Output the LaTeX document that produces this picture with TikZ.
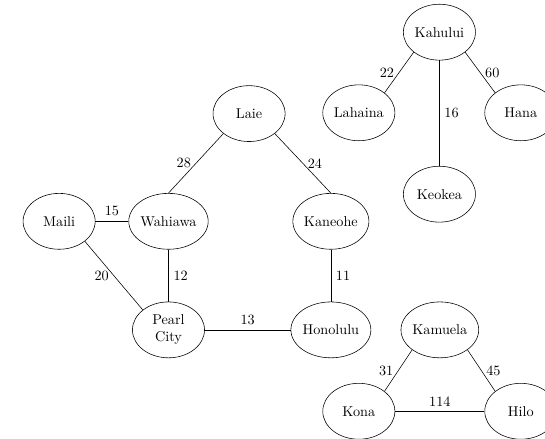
\documentclass[tikz,border=0pt]{standalone}
\usepackage{amsmath,amssymb}
\usepackage{tikz}
\usetikzlibrary{shapes.geometric}

\begin{document}
\begin{tikzpicture}[city/.style={ellipse, draw, align=center, inner sep=0pt, minimum width=1.78cm, minimum height=1.38cm}]
        \useasboundingbox (0,0) rectangle (13.457,10.815);

        % Oahu
        \node[city] (maili)    at (1.46,5.35) {Maili};
        \node[city] (wahiawa)  at (4.16,5.35) {Wahiawa};
        \node[city] (laie)     at (6.15,8.01) {Laie};
        \node[city] (kaneohe)  at (8.17,5.35) {Kaneohe};
        \node[city] (pearl)    at (4.16,2.67) {Pearl\\City};
        \node[city] (honolulu) at (8.17,2.67) {Honolulu};

        % Maui
        \node[city] (kahului) at (10.85,10.02) {Kahului};
        \node[city] (lahaina) at (8.86,8.03) {Lahaina};
        \node[city] (hana)    at (12.86,8.03) {Hana};
        \node[city] (keokea)  at (10.85,6.02) {Keokea};

        % Hawaii
        \node[city] (kamuela) at (10.86,2.67) {Kamuela};
        \node[city] (kona)    at (8.86,0.66) {Kona};
        \node[city] (hilo)    at (12.86,0.66) {Hilo};

        \foreach \a/\b/\w/\pos in {maili.east/wahiawa.west/15/above,
            maili.south east/pearl.north west/20/left,
            wahiawa.south/pearl.north/12/right,
            laie.south west/wahiawa.north/28/left,
            laie.south east/kaneohe.north/24/right,
            kaneohe.south/honolulu.north/11/right,
            pearl.east/honolulu.west/13/above,
            kahului.south west/lahaina.north east/22/left,
            kahului.south/keokea.north/16/right,
            kahului.south east/hana.north west/60/right,
            kamuela.south west/kona.north east/31/left,
            kamuela.south east/hilo.north west/45/right,
            kona.east/hilo.west/114/above}
            \draw (\a) -- node[\pos] {\w} (\b);
    \end{tikzpicture}
\end{document}
